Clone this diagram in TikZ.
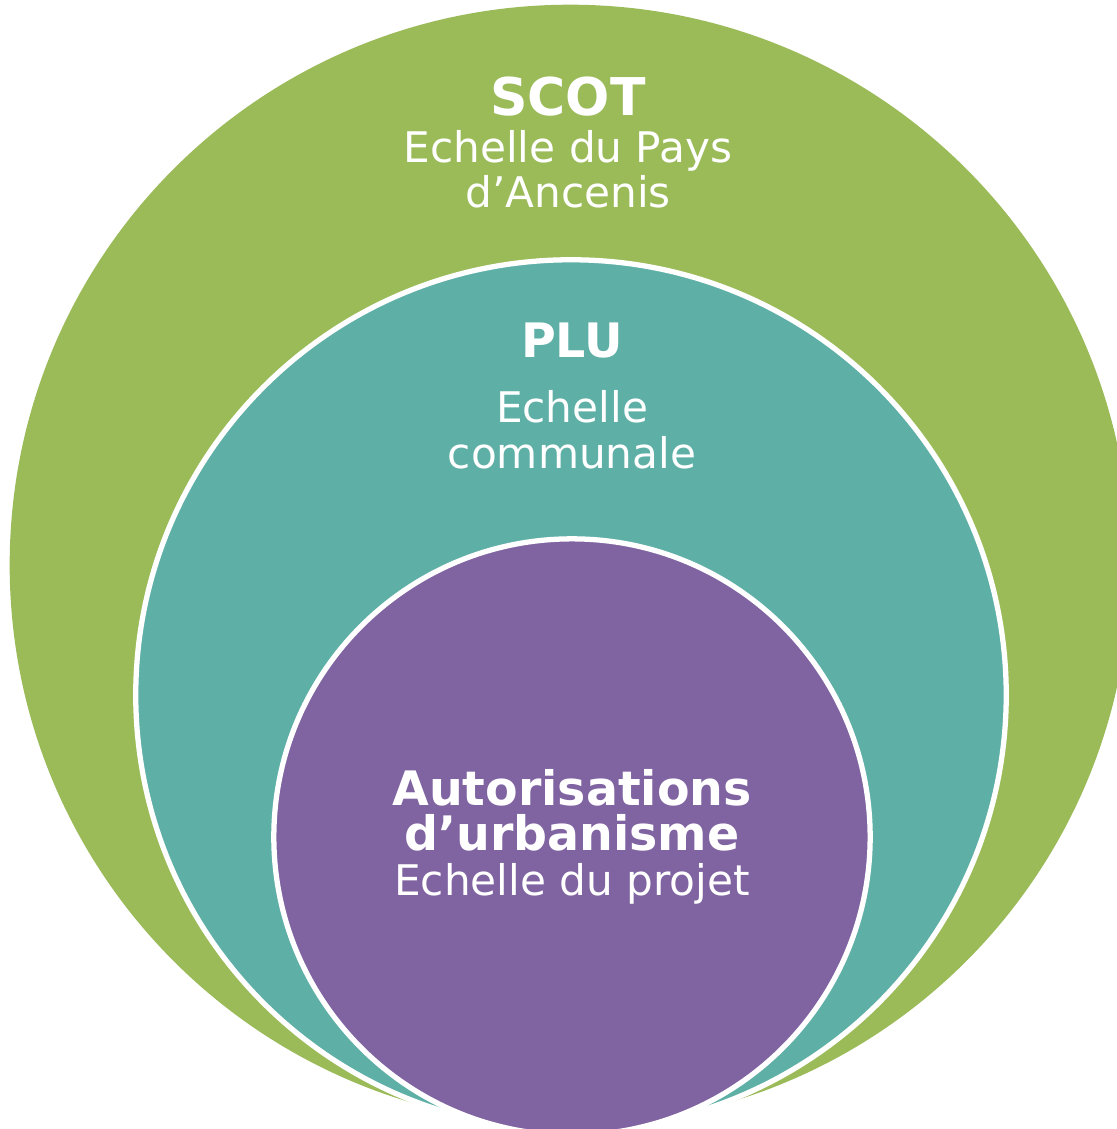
\documentclass[tikz,border=0pt]{standalone}
\usepackage{fontspec}
\setmainfont{DejaVu Sans}
\usetikzlibrary{positioning}
\definecolor{vertscot}{HTML}{9BBB59}
\definecolor{bleuplu}{HTML}{5EAFA6}
\definecolor{violetaut}{HTML}{8064A2}
\tikzset{
    cercle/.style={draw=white,line width=1.5pt},
    titre/.style={text=white,font=\fontsize{13.5}{16}\selectfont\bfseries,inner sep=0pt,anchor=base},
    ligne/.style={text=white,font=\fontsize{12}{14}\selectfont,inner sep=0pt},
}
\begin{document}
\begin{tikzpicture}[x=0.01cm,y=-0.01cm]
\useasboundingbox (0,0) rectangle (1117,1129);
\clip (0,0) rectangle (1117,1129);

% les trois echelles
\fill[vertscot] (570,565) circle[radius=5.60cm];
\draw[cercle,fill=bleuplu] (571,695) circle[radius=4.35cm];
\draw[cercle,fill=violetaut] (572,837) circle[radius=2.98cm];

% SCOT
\node[titre,font=\fontsize{14.8}{17}\selectfont\bfseries] (scot) at (568,115) {SCOT};
\node[ligne,below=0.47cm of scot.base,anchor=base] (pays)    {Echelle du Pays};
\node[ligne,below=0.45cm of pays.base,anchor=base] (ancenis) {d’Ancenis};

% PLU
\node[titre] (plu) at (572,357) {PLU};
\node[ligne,below=0.65cm of plu.base,anchor=base]     (echelle)   {Echelle};
\node[ligne,below=0.46cm of echelle.base,anchor=base] (communale) {communale};

% autorisations
\node[titre] (autor) at (572,805) {Autorisations};
\node[titre,below=0.45cm of autor.base,anchor=base] (urba)   {d’urbanisme};
\node[ligne,below=0.45cm of urba.base,anchor=base]  (projet) {Echelle du projet};
\end{tikzpicture}
\end{document}
